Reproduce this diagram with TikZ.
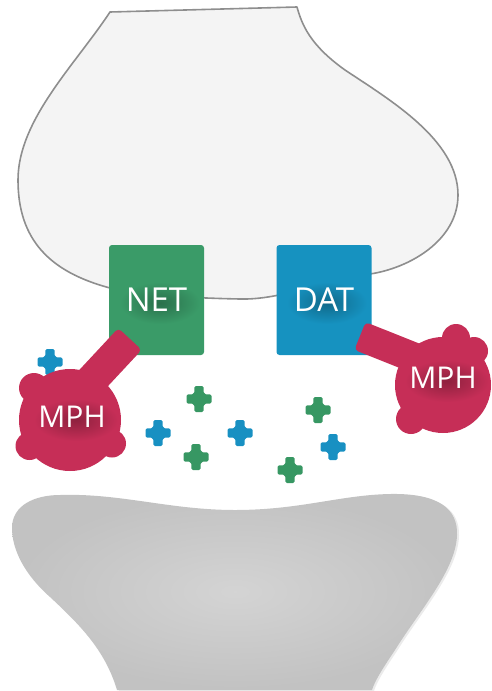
\documentclass[tikz,border=0pt]{standalone}
\usepackage{fontspec}
\setmainfont{Open Sans}
\definecolor{netgreen}{HTML}{3A9B68}
\definecolor{datblue}{HTML}{1692C0}
\definecolor{mphred}{HTML}{C62E57}
\definecolor{molgreen}{HTML}{379763}
\definecolor{molblue}{HTML}{1890C2}
\definecolor{preline}{HTML}{8E8E8E}
\definecolor{prefill}{HTML}{F4F4F4}
\tikzset{
  molecule/.pic={
    \fill[rounded corners=1.5pt] (-12.5,-4.6) rectangle (12.5,4.6);
    \fill[rounded corners=1.5pt] (-4.6,-13) rectangle (4.6,13);
    \fill[rotate=45, rounded corners=1.5pt] (-8,-8) rectangle (8,8);
  },
  transporter/.style={rounded corners=3pt, minimum width=95pt, minimum height=110pt,
    inner sep=0pt},
  boxlabel/.style={text=white, inner sep=0pt, font=\fontsize{33}{38}\selectfont},
  mphlabel/.style={text=white, inner sep=0pt, font=\fontsize{30}{34}\selectfont},
  mphbody/.style={fill=mphred},
}
% soft dark glow placed behind a label
\newcommand{\glow}[3]{%
  \shade[inner color=#1!72!black, outer color=#1] #2 ellipse[x radius=#3, y radius=21];}
\begin{document}
\begin{tikzpicture}[x=1pt,y=-1pt]
\useasboundingbox (0,0) rectangle (491,691);

% presynaptic terminal
\draw[fill=prefill, draw=preline, line width=1.6pt, line join=round]
  (110,12) -- (297,7)
  .. controls (302,25) and (310,45) .. (345,70)
  .. controls (390,100) and (458,140) .. (458,195)
  .. controls (458,240) and (410,268) .. (370,274)
  .. controls (320,282) and (280,300) .. (240,299)
  .. controls (190,298) and (140,295) .. (110,288)
  .. controls (50,272) and (18,240) .. (18,180)
  .. controls (18,120) and (75,65) .. (110,12) -- cycle;

% postsynaptic terminal (soft shadow, then shaded body)
\begin{scope}[shift={(2,1)}]
\fill[black, opacity=0.08]
  (117,690) .. controls (105,650) and (80,625) .. (50,597)
  .. controls (25,575) and (12,550) .. (12,528)
  .. controls (12,505) and (35,495) .. (60,495)
  .. controls (120,493) and (170,510) .. (235,510)
  .. controls (300,510) and (340,495) .. (390,494)
  .. controls (440,493) and (458,510) .. (457,535)
  .. controls (456,570) and (420,610) .. (395,650)
  .. controls (385,665) and (375,680) .. (372,690) -- cycle;
\end{scope}
\shade[inner color=black!17, outer color=black!24]
  (117,690) .. controls (105,650) and (80,625) .. (50,597)
  .. controls (25,575) and (12,550) .. (12,528)
  .. controls (12,505) and (35,495) .. (60,495)
  .. controls (120,493) and (170,510) .. (235,510)
  .. controls (300,510) and (340,495) .. (390,494)
  .. controls (440,493) and (458,510) .. (457,535)
  .. controls (456,570) and (420,610) .. (395,650)
  .. controls (385,665) and (375,680) .. (372,690) -- cycle;

% transporters
\node[transporter, fill=netgreen] (net) at (156.5,300) {};
\node[transporter, fill=datblue] (dat) at (324,300) {};
\glow{netgreen}{(160,303)}{40}
\glow{datblue}{(327,303)}{40}
\node[boxlabel] (netlabel) at (net.center) {NET};
\node[boxlabel] (datlabel) at (dat.center) {DAT};

% neurotransmitter molecules in the cleft
\pic[color=molblue]  (b0) at (50,362)  {molecule};
\pic[color=molgreen] (g1) at (199,399) {molecule};
\pic[color=molgreen] (g2) at (196,457) {molecule};
\pic[color=molgreen] (g3) at (318,410) {molecule};
\pic[color=molgreen] (g4) at (290,470) {molecule};
\pic[color=molblue]  (b1) at (158,433) {molecule};
\pic[color=molblue]  (b2) at (240,433) {molecule};
\pic[color=molblue]  (b3) at (333,447) {molecule};

% methylphenidate blocking NET
\fill[mphbody, rounded corners=4pt]
  (141.7,349.9) -- (118.3,328.1) -- (57.1,393.8) -- (80.5,415.6) -- cycle;
\fill[mphbody] (70,420) circle[radius=51];
\fill[mphbody] (34,388) circle[radius=15];
\fill[mphbody] (29.5,446) circle[radius=14];
\fill[mphbody] (112,443.5) circle[radius=14];
\glow{mphred}{(76,420)}{42}
\node[mphlabel] (mphl) at (72,417) {MPH};

% methylphenidate blocking DAT
\fill[mphbody, rounded corners=4pt]
  (354.4,349.9) -- (365.6,322.1) -- (444.5,353.6) -- (433.3,381.4) -- cycle;
\fill[mphbody] (443,385) circle[radius=48];
\fill[mphbody] (456,338) circle[radius=14];
\fill[mphbody] (474,351) circle[radius=14];
\fill[mphbody] (411,419) circle[radius=15];
\glow{mphred}{(447,381)}{42}
\node[mphlabel] (mphr) at (443,378) {MPH};
\end{tikzpicture}
\end{document}
